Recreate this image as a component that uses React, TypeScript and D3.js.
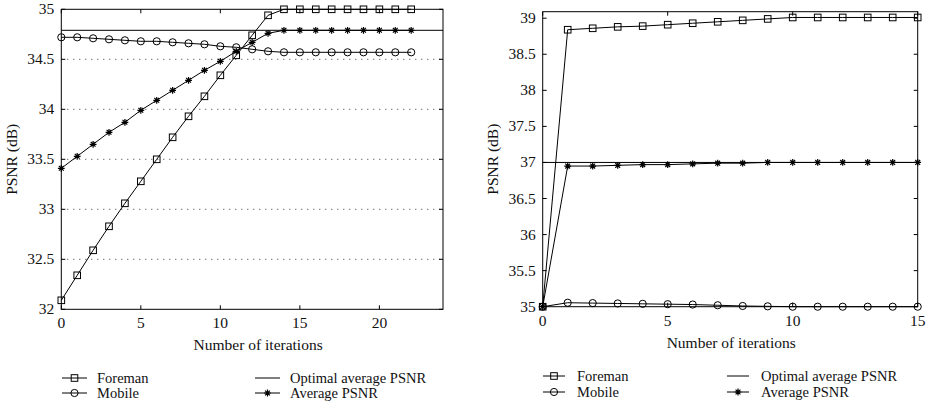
import * as d3 from "d3";
import { useEffect, useRef } from "react";

// left panel data
const leftIterations = [0, 1, 2, 3, 4, 5, 6, 7, 8, 9, 10, 11, 12, 13, 14, 15, 16, 17, 18, 19, 20, 21, 22];
const leftForeman = [32.09, 32.34, 32.59, 32.83, 33.06, 33.28, 33.5, 33.72, 33.93, 34.13, 34.34, 34.54, 34.74, 34.94, 35, 35, 35, 35, 35, 35, 35, 35, 35];
const leftMobile = [34.72, 34.72, 34.71, 34.7, 34.69, 34.68, 34.68, 34.67, 34.66, 34.65, 34.63, 34.62, 34.6, 34.58, 34.57, 34.57, 34.57, 34.57, 34.57, 34.57, 34.57, 34.57, 34.57];
const leftAverage = [33.41, 33.53, 33.65, 33.77, 33.87, 33.99, 34.09, 34.19, 34.29, 34.39, 34.48, 34.58, 34.67, 34.76, 34.79, 34.79, 34.79, 34.79, 34.79, 34.79, 34.79, 34.79, 34.79];
const leftOptimal = 34.79;
const leftXTicks = [0, 5, 10, 15, 20];
const leftYTicks = [32, 32.5, 33, 33.5, 34, 34.5, 35];
const leftGrid = [32.5, 33, 33.5, 34, 34.5];

// right panel data
const rightIterations = [0, 1, 2, 3, 4, 5, 6, 7, 8, 9, 10, 11, 12, 13, 14, 15];
const rightForeman = [35, 38.84, 38.86, 38.88, 38.89, 38.91, 38.93, 38.95, 38.97, 38.99, 39.01, 39.01, 39.01, 39.01, 39.01, 39.01];
const rightMobile = [35, 35.055, 35.05, 35.045, 35.04, 35.035, 35.03, 35.02, 35.01, 35.005, 35, 35, 35, 35, 35, 35];
const rightAverage = [35, 36.95, 36.95, 36.96, 36.97, 36.97, 36.98, 36.99, 36.99, 37, 37, 37, 37, 37, 37, 37];
const rightOptimal = 37;
const rightXTicks = [0, 5, 10, 15];
const rightYTicks = [35, 35.5, 36, 36.5, 37, 37.5, 38, 38.5, 39];

const FONT = "Liberation Serif";

const drawMarker = (g, kind, x, y) => {
    if (kind === "square") {
        g.append("rect")
            .attr("x", x - 3.3).attr("y", y - 3.3)
            .attr("width", 6.6).attr("height", 6.6)
            .attr("fill", "none").attr("stroke", "#000").attr("stroke-width", 1);
    } else if (kind === "circle") {
        g.append("circle")
            .attr("cx", x).attr("cy", y).attr("r", 3.6)
            .attr("fill", "none").attr("stroke", "#000").attr("stroke-width", 1);
    } else if (kind === "star") {
        const r = 3.4;
        const d = 2.4;
        g.append("path")
            .attr("d", `M${x - r},${y}L${x + r},${y}M${x},${y - r}L${x},${y + r}` +
                `M${x - d},${y - d}L${x + d},${y + d}M${x - d},${y + d}L${x + d},${y - d}`)
            .attr("stroke", "#000").attr("stroke-width", 1.2);
    }
};

const drawPanel = (svg, cfg) => {
    const { box, xDomain, yDomain } = cfg;
    const x = d3.scaleLinear().domain(xDomain).range([box.left, box.right]);
    const y = d3.scaleLinear().domain(yDomain).range([box.bottom, box.top]);
    const g = svg.append("g");

    const addText = (tx, ty, str, anchor, size) => g.append("text")
        .attr("x", tx).attr("y", ty)
        .attr("text-anchor", anchor)
        .attr("font-family", FONT)
        .attr("font-size", size)
        .attr("fill", "#111")
        .text(str);

    // dotted grid
    (cfg.grid || []).forEach(v => {
        g.append("line")
            .attr("x1", box.left).attr("x2", box.right)
            .attr("y1", y(v)).attr("y2", y(v))
            .attr("stroke", "#333").attr("stroke-width", 1)
            .attr("stroke-dasharray", "1,5");
    });

    // ticks, mirrored on all sides
    cfg.xTicks.forEach(t => {
        g.append("line").attr("x1", x(t)).attr("x2", x(t)).attr("y1", box.bottom).attr("y2", box.bottom - 4).attr("stroke", "#000");
        g.append("line").attr("x1", x(t)).attr("x2", x(t)).attr("y1", box.top).attr("y2", box.top + 4).attr("stroke", "#000");
        addText(x(t), box.bottom + 19, t, "middle", 15.5);
    });
    cfg.yTicks.forEach(t => {
        g.append("line").attr("x1", box.left).attr("x2", box.left + 4).attr("y1", y(t)).attr("y2", y(t)).attr("stroke", "#000");
        g.append("line").attr("x1", box.right).attr("x2", box.right - 4).attr("y1", y(t)).attr("y2", y(t)).attr("stroke", "#000");
        addText(box.left - 7, y(t) + 5, t, "end", 15.5);
    });

    // frame
    g.append("rect")
        .attr("x", box.left).attr("y", box.top)
        .attr("width", box.right - box.left).attr("height", box.bottom - box.top)
        .attr("fill", "none").attr("stroke", "#000").attr("stroke-width", 1);

    // optimal average line
    g.append("line")
        .attr("x1", x(xDomain[0])).attr("x2", x(xDomain[1]))
        .attr("y1", y(cfg.optimal)).attr("y2", y(cfg.optimal))
        .attr("stroke", "#000").attr("stroke-width", 1);

    const line = d3.line().x(d => x(d[0])).y(d => y(d[1]));
    cfg.series.forEach(s => {
        const pts = cfg.iterations.map((it, i) => [it, s.values[i]]);
        g.append("path")
            .attr("d", line(pts))
            .attr("fill", "none").attr("stroke", "#000").attr("stroke-width", 1);
        pts.forEach(p => drawMarker(g, s.marker, x(p[0]), y(p[1])));
    });

    // axis labels
    addText((box.left + box.right) / 2 + cfg.xLabelShift, cfg.xLabelY, "Number of iterations", "middle", 15.5);
    g.append("text")
        .attr("transform", `translate(${cfg.yLabelX}, ${(box.top + box.bottom) / 2}) rotate(-90)`)
        .attr("text-anchor", "middle")
        .attr("font-family", FONT)
        .attr("font-size", 15.5)
        .attr("fill", "#111")
        .text("PSNR (dB)");

    // legend
    const leg = cfg.legend;
    const items = [
        { label: "Foreman", marker: "square", lx: leg.col1, ty: leg.row1 },
        { label: "Mobile", marker: "circle", lx: leg.col1, ty: leg.row2 },
        { label: "Optimal average PSNR", marker: null, lx: leg.col2, ty: leg.row1 },
        { label: "Average PSNR", marker: "star", lx: leg.col2, ty: leg.row2 }
    ];
    items.forEach(it => {
        g.append("line")
            .attr("x1", it.lx).attr("x2", it.lx + leg.lineLen)
            .attr("y1", it.ty).attr("y2", it.ty)
            .attr("stroke", "#000").attr("stroke-width", 1);
        if (it.marker) {
            drawMarker(g, it.marker, it.lx + leg.lineLen / 2, it.ty);
        }
        addText(it.lx + leg.textGap, it.ty + 4.5, it.label, "start", 14.5);
    });
};

const App = () => {
    const ref = useRef(null);

    useEffect(() => {
        const svg = d3.select(ref.current);
        svg.selectAll("*").remove();

        drawPanel(svg, {
            box: { left: 61.3, right: 443, top: 9.3, bottom: 309.3 },
            xDomain: [0, 24],
            yDomain: [32, 35],
            xTicks: leftXTicks,
            yTicks: leftYTicks,
            grid: leftGrid,
            iterations: leftIterations,
            optimal: leftOptimal,
            series: [
                { values: leftForeman, marker: "square" },
                { values: leftMobile, marker: "circle" },
                { values: leftAverage, marker: "star" }
            ],
            xLabelY: 350,
            xLabelShift: 6,
            yLabelX: 17,
            legend: { col1: 62, col2: 255, row1: 378, row2: 393, lineLen: 25, textGap: 35 }
        });

        drawPanel(svg, {
            box: { left: 542.7, right: 917.7, top: 11.7, bottom: 306.7 },
            xDomain: [0, 15],
            yDomain: [35, 39.09],
            xTicks: rightXTicks,
            yTicks: rightYTicks,
            grid: [],
            iterations: rightIterations,
            optimal: rightOptimal,
            series: [
                { values: rightForeman, marker: "square" },
                { values: rightMobile, marker: "circle" },
                { values: rightAverage, marker: "star" }
            ],
            xLabelY: 348,
            xLabelShift: 1,
            yLabelX: 498,
            legend: { col1: 543, col2: 727, row1: 376, row2: 392, lineLen: 22, textGap: 34 }
        });
    }, []);

    return (
        <svg ref={ref} width={931} height={412}
            style={{ position: "absolute", left: 0, top: 0, background: "#fff" }} />
    );
};

export default App;
